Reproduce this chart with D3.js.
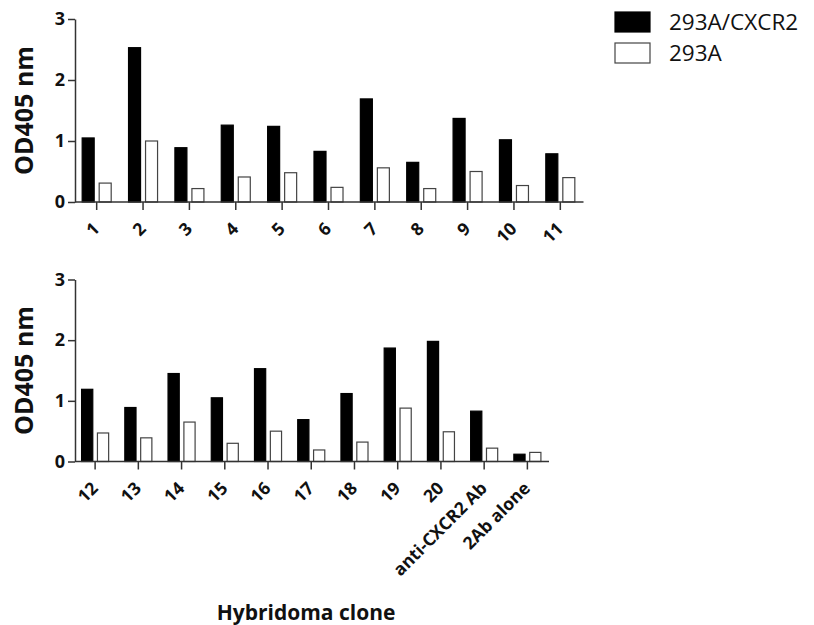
<!DOCTYPE html>
<html>
<head>
<meta charset="utf-8">
<script src="https://cdn.jsdelivr.net/npm/d3@7"></script>
<style>
body { margin: 0; background: #fff; }
svg { display: block; }
</style>
</head>
<body>
<svg id="chart" width="814" height="625"></svg>
<script>
// data
var seriesNames = ["293A/CXCR2", "293A"];
var topClones = ["1", "2", "3", "4", "5", "6", "7", "8", "9", "10", "11"];
var topCxcr2 = [1.05, 2.53, 0.89, 1.26, 1.24, 0.83, 1.69, 0.65, 1.37, 1.02, 0.79];
var top293a = [0.31, 1.0, 0.22, 0.41, 0.48, 0.24, 0.56, 0.22, 0.50, 0.27, 0.40];
var bottomClones = ["12", "13", "14", "15", "16", "17", "18", "19", "20", "anti-CXCR2 Ab", "2Ab alone"];
var bottomCxcr2 = [1.19, 0.89, 1.45, 1.05, 1.53, 0.69, 1.12, 1.87, 1.98, 0.83, 0.12];
var bottom293a = [0.47, 0.39, 0.65, 0.30, 0.50, 0.19, 0.32, 0.88, 0.49, 0.22, 0.15];
var yTicks = [0, 1, 2, 3];

var svg = d3.select("#chart");
var font = "'Open Sans', sans-serif";
var axisColor = "#333";

var color = d3.scaleOrdinal().domain(seriesNames).range(["#000", "#fff"]);
var strokeColor = d3.scaleOrdinal().domain(seriesNames).range(["#000", "#444"]);

function drawPanel(cfg){
	var rows = cfg.cats.map(function(c, i){
		return {cat: c, values: [
			{key: seriesNames[0], value: cfg.a[i]},
			{key: seriesNames[1], value: cfg.b[i]}
		]};
	});

	var x0 = d3.scaleBand().domain(cfg.cats).range([cfg.left - 1.5, cfg.right]).padding(0);
	var x1 = d3.scaleBand().domain(seriesNames).range([0, x0.bandwidth()])
		.paddingInner(0.294).paddingOuter(0.51);
	var y = d3.scaleLinear().domain([0, 3]).range([cfg.bottom, cfg.top]);

	var g = svg.append("g");

	var groups = g.selectAll(".grp").data(rows).enter().append("g")
		.attr("transform", function(d){ return "translate(" + x0(d.cat) + ",0)"; });

	groups.selectAll("rect").data(function(d){ return d.values; }).enter().append("rect")
		.attr("x", function(d){ return x1(d.key); })
		.attr("y", function(d){ return y(d.value); })
		.attr("width", x1.bandwidth())
		.attr("height", function(d){ return y(0) - y(d.value); })
		.attr("fill", function(d){ return color(d.key); })
		.attr("stroke", function(d){ return strokeColor(d.key); })
		.attr("stroke-width", 1.2);

	// y axis
	var yAxis = g.append("g").attr("transform", "translate(" + cfg.left + ",0)")
		.call(d3.axisLeft(y).tickValues(yTicks).tickFormat(d3.format("d")).tickSize(7).tickSizeOuter(0).tickPadding(3));
	yAxis.selectAll("path, line").attr("stroke", axisColor).attr("stroke-width", 1.5);
	yAxis.selectAll("text").attr("font-family", font).attr("font-size", 18).attr("font-weight", "bold").attr("fill", "#111");

	// x axis
	var xAxis = g.append("g").attr("transform", "translate(0," + cfg.bottom + ")")
		.call(d3.axisBottom(x0).tickSize(8).tickSizeOuter(0));
	xAxis.select(".domain").remove();
	xAxis.append("line").attr("x1", cfg.left).attr("x2", cfg.right).attr("y1", 0).attr("y2", 0)
		.attr("stroke", axisColor).attr("stroke-width", 1.5);
	xAxis.selectAll(".tick line").attr("stroke", axisColor).attr("stroke-width", 1.5);
	xAxis.selectAll(".tick text")
		.attr("font-family", font).attr("font-size", 17.5).attr("font-weight", "bold").attr("fill", "#111")
		.attr("text-anchor", "end")
		.attr("transform", "translate(-5,19) rotate(-45)")
		.attr("x", 0).attr("y", 0).attr("dy", "0.72em");

	// y title
	g.append("text")
		.attr("transform", "translate(" + 33 + "," + ((cfg.top + cfg.bottom) / 2) + ") rotate(-90)")
		.attr("text-anchor", "middle")
		.attr("font-family", font).attr("font-size", 25).attr("font-weight", "bold").attr("fill", "#111")
		.text("OD405 nm");
}

drawPanel({cats: topClones, a: topCxcr2, b: top293a, left: 75, right: 583.5, top: 19, bottom: 202});
drawPanel({cats: bottomClones, a: bottomCxcr2, b: bottom293a, left: 75, right: 549, top: 279.5, bottom: 461.5});

// x title
svg.append("text")
	.attr("x", 306).attr("y", 620)
	.attr("text-anchor", "middle")
	.attr("font-family", font).attr("font-size", 21).attr("font-weight", "bold").attr("fill", "#111")
	.text("Hybridoma clone");

// legend
var legend = svg.append("g").selectAll("g").data(seriesNames).enter().append("g")
	.attr("transform", function(d, i){ return "translate(615," + (12 + i * 31) + ")"; });
legend.append("rect")
	.attr("width", 35).attr("height", 20)
	.attr("fill", function(d){ return color(d); })
	.attr("stroke", function(d){ return strokeColor(d); })
	.attr("stroke-width", 1.2);
legend.append("text")
	.attr("x", 54).attr("y", 10).attr("dy", "0.36em")
	.attr("font-family", font).attr("font-size", 22.5).attr("fill", "#111")
	.text(function(d){ return d; });
</script>
</body>
</html>
